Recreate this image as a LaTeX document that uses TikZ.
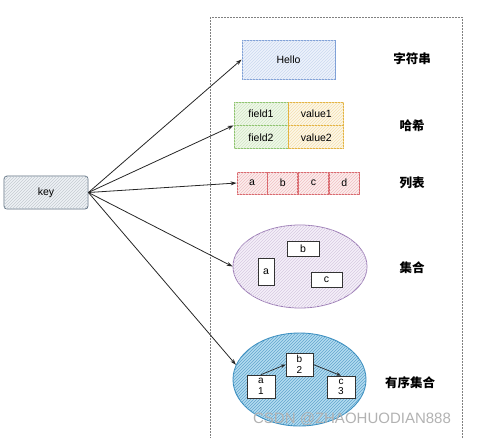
\documentclass[tikz,border=0pt]{standalone}
\usepackage{fontspec}
\setmainfont{Liberation Sans}
\newfontfamily\cjk{Noto Sans CJK SC}
\usetikzlibrary{positioning,patterns,shapes.geometric,arrows.meta}

\definecolor{keyline}{HTML}{5A6B7D}
\definecolor{keyfill}{HTML}{EEF2F6}
\definecolor{strline}{HTML}{7D9FD6}
\definecolor{strfill}{HTML}{EDF3FC}
\definecolor{fieldline}{HTML}{8CC26B}
\definecolor{fieldfill}{HTML}{F0F8EA}
\definecolor{valueline}{HTML}{E3B23C}
\definecolor{valuefill}{HTML}{FDF7E8}
\definecolor{listline}{HTML}{D9656A}
\definecolor{listfill}{HTML}{FCEDED}
\definecolor{setline}{HTML}{9B7BB5}
\definecolor{setfill}{HTML}{F5F0F9}
\definecolor{zsetline}{HTML}{3B8FC0}
\definecolor{zsetfill}{HTML}{B3DCF0}

\tikzset{
  hatch/.style={postaction={pattern=north east lines, pattern color=#1}},
  cell/.style={draw, rectangle, inner sep=0pt, line width=0.8pt,
    font=\fontsize{10.5}{12}\selectfont},
  keybox/.style={cell, draw=keyline, fill=keyfill, hatch=keyline!35,
    rounded corners=3pt, minimum width=84pt, minimum height=33pt},
  strbox/.style={cell, draw=strline, fill=strfill, hatch=strline!40,
    minimum width=93pt, minimum height=39pt},
  fieldbox/.style={cell, draw=fieldline, fill=fieldfill, hatch=fieldline!40,
    minimum width=54pt, minimum height=23pt},
  valuebox/.style={cell, draw=valueline, fill=valuefill, hatch=valueline!40,
    minimum width=55pt, minimum height=23pt},
  listbox/.style={cell, draw=listline, fill=listfill, hatch=listline!40,
    minimum width=30pt, minimum height=22pt},
  setshape/.style={draw=setline, fill=setfill, hatch=setline!40, ellipse,
    line width=0.8pt, minimum width=134pt, minimum height=83pt},
  zsetshape/.style={draw=zsetline, fill=zsetfill, hatch=zsetline!80, ellipse,
    line width=0.9pt, minimum width=133pt, minimum height=93pt},
  member/.style={cell, draw=black!80, fill=white, line width=0.7pt},
  kind/.style={font=\cjk\bfseries\fontsize{12.5}{14}\selectfont},
  link/.style={-{Stealth[length=6pt,width=4pt]}, line width=0.8pt, black!85},
  small link/.style={-{Stealth[length=5pt,width=3.5pt]}, line width=0.7pt, black!85}
}

\begin{document}
\begin{tikzpicture}[x=1pt, y=-1pt]
\useasboundingbox (0,0) rectangle (486,437);

% the dashed frame round the value types
\draw[gray, dash pattern=on 2pt off 1pt, line width=0.6pt] (210,17) rectangle (462,445);

\node[keybox] (key) at (46,192.5) {key};

% string
\node[strbox] (hello) at (288.5,59.5) {Hello};
\node[kind] (strname) at (412,59) {字符串};

% hash
\node[fieldbox] (f1) at (261,113.5) {field1};
\node[valuebox, right=0pt of f1] (v1) {value1};
\node[fieldbox, below=0pt of f1] (f2) {field2};
\node[valuebox, below=0pt of v1] (v2) {value2};
\node[kind] (hashname) at (412,126) {哈希};

% list
\node[listbox] (la) at (252,183) {a};
\node[listbox, right=0pt of la] (lb) {b};
\node[listbox, right=0pt of lb] (lc) {c};
\node[listbox, right=0pt of lc] (ld) {d};
\node[kind] (listname) at (412,183) {列表};

% set
\node[setshape] (set) at (300,266.5) {};
\node[member, minimum width=16pt, minimum height=27pt] (sa) at (266,271.5) {a};
\node[member, minimum width=32pt, minimum height=15pt] (sb) at (303,248.5) {b};
\node[member, minimum width=31pt, minimum height=15pt] (sc) at (326.5,279.5) {c};
\node[kind] (setname) at (412,268) {集合};

% sorted set
\node[zsetshape] (zset) at (299.5,379.5) {};
\node[member, minimum width=28pt, minimum height=23pt, align=center,
  font=\fontsize{10}{10.5}\selectfont] (za) at (261,386.5) {a\\1};
\node[member, minimum width=27pt, minimum height=23pt, align=center,
  font=\fontsize{10}{10.5}\selectfont] (zb) at (299.5,364.5) {b\\2};
\node[member, minimum width=28pt, minimum height=22pt, align=center,
  font=\fontsize{10}{10.5}\selectfont] (zc) at (341,387) {c\\3};
\draw[small link] (za.north) -- (zb.west);
\draw[small link] (zb.east) -- (zc.north);
\node[kind] (zsetname) at (410,383) {有序集合};

% key to each type
\draw[link] (key.east) -- (hello.west);
\draw[link] (key.east) -- (f1.south west);
\draw[link] (key.east) -- (la.west);
\draw[link] (key.east) -- (set.west);
\draw[link] (key.east) -- (zset.167);

\node[text=gray!60, font=\fontsize{15}{16}\selectfont] (mark) at (352,419) {CSDN @ZHAOHUODIAN888};
\end{tikzpicture}
\end{document}
